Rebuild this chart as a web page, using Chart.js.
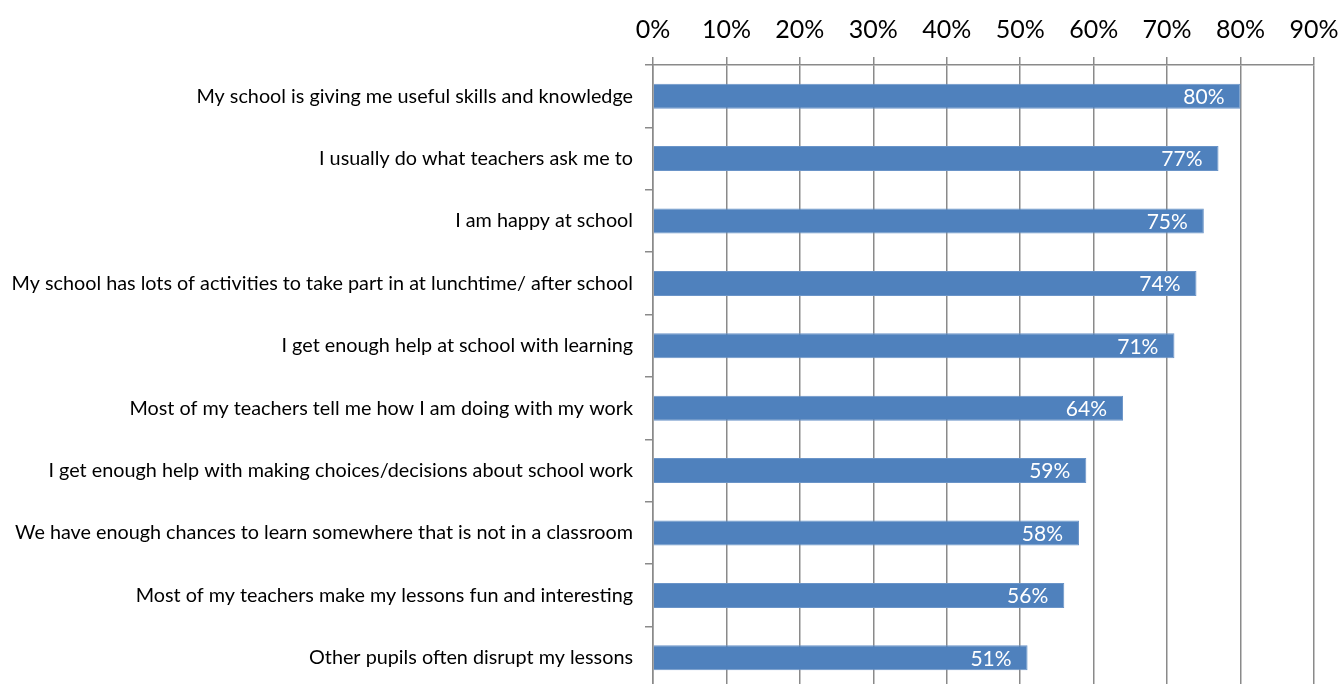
<!DOCTYPE html>
<html>
<head>
<meta charset="utf-8">
<script src="https://cdn.jsdelivr.net/npm/chart.js@4/dist/chart.umd.min.js"></script>
<style>
  html, body { margin: 0; padding: 0; background: #fff; overflow: hidden; }
  canvas { display: block; }
</style>
</head>
<body>
<canvas id="chart" width="1343" height="689" style="width:1343px;height:689px"></canvas>
<script>
const statements = [
  'My school is giving me useful skills and knowledge',
  'I usually do what teachers ask me to',
  'I am happy at school',
  'My school has lots of activities to take part in at lunchtime/ after school',
  'I get enough help at school with learning',
  'Most of my teachers tell me how I am doing with my work',
  'I get enough help with making choices/decisions about school work',
  'We have enough chances to learn somewhere that is not in a classroom',
  'Most of my teachers make my lessons fun and interesting',
  'Other pupils often disrupt my lessons'
]
const agreeShare = [0.80, 0.77, 0.75, 0.74, 0.71, 0.64, 0.59, 0.58, 0.56, 0.51]
const xMax = 0.9
const xStep = 0.1

const pct = v => `${Math.round(v * 100)}%`

// values written inside the end of each bar
const barLabels = {
  id: 'barLabels',
  afterDatasetsDraw(chart) {
    const ctx = chart.ctx
    const meta = chart.getDatasetMeta(0)
    ctx.save()
    ctx.font = '21px Lato'
    ctx.fillStyle = '#ffffff'
    ctx.textAlign = 'right'
    ctx.textBaseline = 'middle'
    meta.data.forEach((bar, i) => {
      ctx.fillText(pct(agreeShare[i]), bar.x - 16, bar.y + 1)
    })
    ctx.restore()
  }
}

const gridGray = '#8a8a8a'

new Chart(document.getElementById('chart'), {
  type: 'bar',
  data: {
    labels: statements,
    datasets: [{
      data: agreeShare,
      backgroundColor: '#4f81bd',
      borderColor: '#6a94c8',
      borderWidth: 1,
      categoryPercentage: 1,
      barPercentage: 0.4
    }]
  },
  options: {
    indexAxis: 'y',
    responsive: false,
    animation: false,
    layout: { padding: 0 },
    plugins: {
      legend: { display: false },
      tooltip: { enabled: false }
    },
    scales: {
      x: {
        position: 'top',
        min: 0,
        max: xMax,
        afterFit: scale => {
          scale.height = 65
          scale.paddingLeft = 0
          scale.paddingRight = 29
        },
        ticks: {
          stepSize: xStep,
          callback: value => pct(value),
          font: { family: 'Lato', size: 25 },
          color: '#000',
          padding: 12
        },
        grid: { color: gridGray, lineWidth: 1.5, tickLength: 8, tickColor: gridGray },
        border: { color: gridGray, width: 1.5 }
      },
      y: {
        afterFit: scale => {
          scale.width = 653
          scale.paddingTop = 0
          scale.paddingBottom = 0
        },
        ticks: {
          font: { family: 'Lato', size: 19.8 },
          color: '#000',
          padding: 12
        },
        grid: {
          offset: true,
          drawOnChartArea: false,
          tickLength: 8,
          color: gridGray,
          lineWidth: 1.5
        },
        border: { color: gridGray, width: 1.5 }
      }
    }
  },
  plugins: [barLabels]
})
</script>
</body>
</html>
